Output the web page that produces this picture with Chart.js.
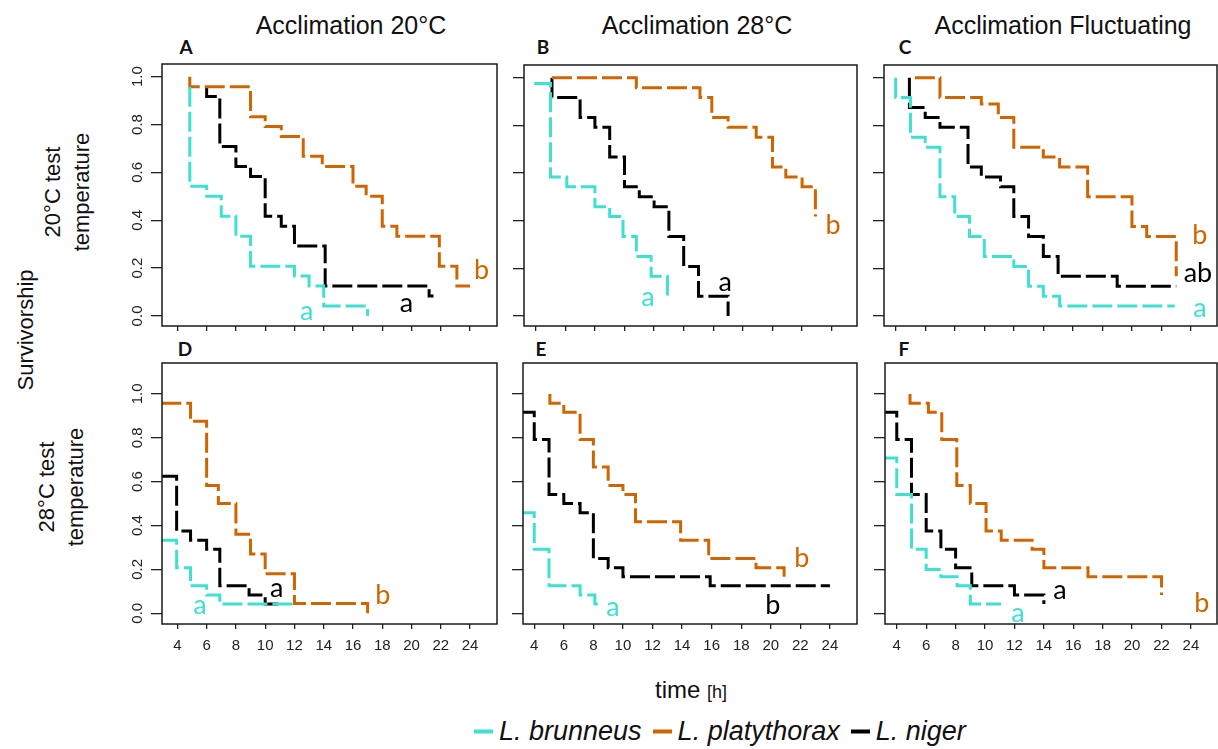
<!DOCTYPE html>
<html>
<head>
<meta charset="utf-8">
<script src="https://cdn.jsdelivr.net/npm/chart.js@4.4.1/dist/chart.umd.min.js"></script>
<style>
  body { margin: 0; background: #fff; width: 1218px; height: 749px; position: relative; overflow: hidden; font-family: 'Liberation Sans', Arial, sans-serif; color: #111; }
  canvas { position: absolute; }
  .txt { position: absolute; white-space: nowrap; transform: translate(-50%, -50%); }
  .title { font-size: 25px; }
  .letter { font-family: Lato, sans-serif; font-weight: bold; font-size: 19px; }
  .side { font-size: 22px; text-align: center; line-height: 29px; transform: translate(-50%, -50%) rotate(-90deg); }
  .legend { position: absolute; left: 474px; top: 731px; transform: translateY(-50%); display: flex; align-items: center; font-style: italic; font-size: 27px; white-space: nowrap; }
  .legend .key { display: inline-block; width: 19px; height: 4px; margin-right: 6px; }
  .legend .item { display: flex; align-items: center; margin-right: 11px; }
</style>
</head>
<body>
<div class="txt title" style="left:351px; top:25px">Acclimation 20°C</div>
<div class="txt title" style="left:697px; top:25px">Acclimation 28°C</div>
<div class="txt title" style="left:1063px; top:25px">Acclimation Fluctuating</div>

<div class="txt letter" style="left:186px; top:46px">A</div>
<div class="txt letter" style="left:543px; top:46px">B</div>
<div class="txt letter" style="left:905px; top:46px">C</div>
<div class="txt letter" style="left:185px; top:348px">D</div>
<div class="txt letter" style="left:541px; top:348px">E</div>
<div class="txt letter" style="left:904px; top:348px">F</div>

<div class="txt side" style="left:25px; top:330px">Survivorship</div>
<div class="txt side" style="left:67px; top:192px">20°C test<br>temperature</div>
<div class="txt side" style="left:61px; top:487px">28°C test<br>temperature</div>

<div class="txt" style="left:691px; top:690px; font-size:24px">time <span style="font-size:18px">[h]</span></div>

<div class="legend">
  <span class="item"><span class="key" style="background:#40E0D0"></span>L. brunneus</span>
  <span class="item"><span class="key" style="background:#CD6600"></span>L. platythorax</span>
  <span class="item"><span class="key" style="background:#000"></span>L. niger</span>
</div>

<script>
const species = ['L. brunneus', 'L. platythorax', 'L. niger']
const colors = ['#40E0D0', '#CD6600', '#000000']
const xTicks = [4, 6, 8, 10, 12, 14, 16, 18, 20, 22, 24]
const yTicks = [0, 0.2, 0.4, 0.6, 0.8, 1.0]

// survival curves: [time (h), proportion surviving]
// A: acclimation 20°C, test 20°C
const brunneusA = [[4.85, 0.958], [4.85, 0.542], [6, 0.5], [7, 0.417], [8, 0.333], [9, 0.208], [12, 0.167], [13, 0.125], [14, 0.042], [17, 0]]
const platythoraxA = [[4.85, 1.0], [4.85, 0.958], [9, 0.833], [10, 0.792], [11.1, 0.75], [12.6, 0.667], [13.9, 0.625], [16, 0.542], [16.9, 0.5], [18, 0.375], [19, 0.333], [21.9, 0.208], [23.1, 0.125], [24, 0.125]]
const nigerA = [[6, 0.958], [6, 0.917], [6.9, 0.708], [8, 0.625], [9, 0.583], [10, 0.417], [11.1, 0.375], [12, 0.292], [14.1, 0.125], [21.2, 0.083], [21.5, 0.083]]

// B: acclimation 28°C, test 20°C
const brunneusB = [[3.9, 0.975], [5, 0.583], [6.1, 0.542], [8, 0.458], [9, 0.417], [9.9, 0.333], [10.8, 0.25], [11.8, 0.167], [12.9, 0.083]]
const platythoraxB = [[5.1, 1.0], [10.8, 0.958], [15.1, 0.917], [15.9, 0.833], [17, 0.792], [18.9, 0.75], [20, 0.625], [20.9, 0.583], [22, 0.542], [22.9, 0.417]]
const nigerB = [[5.1, 1.0], [5.1, 0.917], [7, 0.833], [8, 0.792], [9, 0.667], [10, 0.542], [11, 0.5], [12, 0.458], [13, 0.333], [14, 0.208], [15, 0.083], [17, 0]]

// C: fluctuating acclimation, test 20°C
const brunneusC = [[4, 1.0], [4, 0.917], [5, 0.75], [6, 0.708], [7, 0.5], [8, 0.417], [9, 0.333], [10, 0.25], [12, 0.208], [13, 0.125], [14, 0.083], [15.1, 0.042], [22.9, 0.042]]
const platythoraxC = [[5.3, 1.0], [7, 0.917], [9.8, 0.889], [10.95, 0.833], [12, 0.708], [14, 0.667], [15.1, 0.625], [17, 0.5], [20, 0.375], [21, 0.333], [23, 0.167]]
const nigerC = [[4.93, 1.0], [4.93, 0.875], [6, 0.833], [7, 0.792], [8.9, 0.625], [9.8, 0.583], [11.1, 0.542], [12, 0.417], [13, 0.333], [14, 0.25], [15, 0.167], [19, 0.125], [23, 0.125]]

// D: acclimation 20°C, test 28°C
const brunneusD = [[2.9, 0.333], [3.95, 0.208], [4.9, 0.125], [6, 0.083], [6.9, 0.042], [12, 0.042]]
const platythoraxD = [[2.9, 0.958], [4.9, 0.875], [6, 0.583], [6.8, 0.5], [8, 0.36], [9, 0.27], [10, 0.18], [12, 0.045], [17, 0]]
const nigerD = [[2.9, 0.625], [3.95, 0.375], [4.9, 0.333], [6, 0.292], [6.9, 0.125], [8.9, 0.083], [10, 0.042], [11.1, 0.042]]

// E: acclimation 28°C, test 28°C
const brunneusE = [[3, 0.458], [4, 0.292], [5, 0.125], [7.1, 0.083], [8.1, 0.042], [8.3, 0.042]]
const platythoraxE = [[5.06, 1.0], [5.06, 0.958], [6, 0.917], [7.1, 0.792], [8, 0.667], [9, 0.583], [10, 0.542], [10.85, 0.417], [13.9, 0.333], [15.8, 0.25], [19, 0.208], [20.9, 0.167]]
const nigerE = [[3, 0.917], [4, 0.792], [5, 0.542], [6, 0.5], [7.1, 0.458], [8, 0.25], [9, 0.208], [10, 0.167], [15.9, 0.125], [24, 0.125]]

// F: fluctuating acclimation, test 28°C
const brunneusF = [[3, 0.708], [4, 0.542], [5, 0.292], [6, 0.2], [7, 0.167], [8.1, 0.125], [9, 0.042], [11.1, 0.042]]
const platythoraxF = [[4.9, 1.0], [4.9, 0.958], [6.15, 0.917], [7.06, 0.792], [8.08, 0.583], [9, 0.5], [10.07, 0.375], [11.1, 0.333], [13.2, 0.292], [14, 0.208], [17, 0.167], [22, 0.083]]
const nigerF = [[3, 0.917], [4, 0.792], [5, 0.542], [6, 0.375], [7, 0.292], [8, 0.208], [9.1, 0.125], [12, 0.083], [14, 0.042]]

// significance letters: [text, species index, time, survival]
const lettersA = [['a', 0, 12.83, 0.018], ['a', 2, 19.66, 0.054], ['b', 1, 24.78, 0.19]]
const lettersB = [['a', 0, 11.59, 0.079], ['a', 2, 16.8, 0.142], ['b', 1, 24.1, 0.38]]
const lettersC = [['b', 1, 24.6, 0.338], ['ab', 2, 24.47, 0.18], ['a', 0, 24.6, 0.033]]
const lettersD = [['a', 0, 5.55, 0.038], ['a', 2, 10.78, 0.115], ['b', 1, 18.04, 0.083]]
const lettersE = [['a', 0, 9.32, 0.029], ['b', 2, 20.14, 0.038], ['b', 1, 22.1, 0.252]]
const lettersF = [['a', 2, 15.1, 0.106], ['a', 0, 12.24, 0.0], ['b', 1, 24.74, 0.047]]

const topY = [-0.042, 1.053]
const bottomY = [-0.049, 1.141]

const panels = [
  { box: [162, 64, 497, 326], x: [2.95, 25.84], y: topY, series: [brunneusA, platythoraxA, nigerA], letters: lettersA, yLabels: true, xLabels: false },
  { box: [524, 65, 857, 326], x: [3.21, 25.71], y: topY, series: [brunneusB, platythoraxB, nigerB], letters: lettersB, yLabels: false, xLabels: false },
  { box: [884, 65, 1217, 326], x: [3.21, 25.76], y: topY, series: [brunneusC, platythoraxC, nigerC], letters: lettersC, yLabels: false, xLabels: false },
  { box: [162, 363, 497, 624], x: [2.95, 25.84], y: bottomY, series: [brunneusD, platythoraxD, nigerD], letters: lettersD, yLabels: true, xLabels: true },
  { box: [523, 363, 857, 624], x: [3.24, 25.83], y: bottomY, series: [brunneusE, platythoraxE, nigerE], letters: lettersE, yLabels: false, xLabels: true },
  { box: [885, 363, 1217, 624], x: [3.2, 25.77], y: bottomY, series: [brunneusF, platythoraxF, nigerF], letters: lettersF, yLabels: false, xLabels: true }
]

// frame round the plotting region
const boxPlugin = {
  id: 'box',
  afterDraw (chart) {
    const { ctx, chartArea: a } = chart
    ctx.save()
    ctx.strokeStyle = '#1a1a1a'
    ctx.lineWidth = 1.5
    ctx.strokeRect(a.left, a.top, a.right - a.left, a.bottom - a.top)
    ctx.restore()
  }
}

// the a / b / ab letters next to the curves
const sigPlugin = {
  id: 'sig',
  afterDatasetsDraw (chart, args, opts) {
    const { ctx, scales } = chart
    ctx.save()
    ctx.font = '27px Lato, sans-serif'
    ctx.textAlign = 'center'
    ctx.textBaseline = 'middle'
    opts.letters.forEach(([txt, s, x, y]) => {
      ctx.fillStyle = colors[s]
      ctx.fillText(txt, scales.x.getPixelForValue(x), scales.y.getPixelForValue(y))
    })
    ctx.restore()
  }
}

function makePanel (p) {
  const yW = p.yLabels ? 60 : 16
  const xH = p.xLabels ? 40 : 10
  const pad = 3
  const [l, t, r, b] = p.box
  const canvas = document.createElement('canvas')
  canvas.width = yW + (r - l) + pad
  canvas.height = pad + (b - t) + xH
  canvas.style.left = (l - yW) + 'px'
  canvas.style.top = (t - pad) + 'px'
  document.body.appendChild(canvas)

  const datasets = p.series.map((s, i) => ({
    label: species[i],
    data: s.map(([x, y]) => ({ x, y })),
    borderColor: colors[i],
    borderWidth: 3,
    borderDash: [20, 5],
    stepped: true,
    pointRadius: 0,
    fill: false
  }))

  new Chart(canvas.getContext('2d'), {
    type: 'line',
    data: { datasets },
    options: {
      responsive: false,
      animation: false,
      devicePixelRatio: 1,
      layout: { padding: { top: pad, right: pad, left: 0, bottom: 0 } },
      plugins: {
        legend: { display: false },
        tooltip: { enabled: false },
        sig: { letters: p.letters }
      },
      scales: {
        x: {
          type: 'linear',
          min: p.x[0],
          max: p.x[1],
          afterBuildTicks: s => { s.ticks = xTicks.map(v => ({ value: v })) },
          afterFit: s => { s.height = xH; s.paddingLeft = 0; s.paddingRight = 0 },
          grid: { drawOnChartArea: false, tickLength: 5, color: '#222', lineWidth: 1.3 },
          border: { display: false },
          ticks: { display: p.xLabels, autoSkip: false, maxRotation: 0, padding: 8, color: '#222', font: { family: 'Liberation Sans', size: 15 } }
        },
        y: {
          type: 'linear',
          min: p.y[0],
          max: p.y[1],
          afterBuildTicks: s => { s.ticks = yTicks.map(v => ({ value: v })) },
          afterFit: s => { s.width = yW; s.paddingTop = 0; s.paddingBottom = 0 },
          grid: { drawOnChartArea: false, tickLength: 11, color: '#222', lineWidth: 1.3 },
          border: { display: false },
          ticks: {
            display: p.yLabels,
            minRotation: 90,
            maxRotation: 90,
            crossAlign: 'center',
            padding: 3,
            color: '#222',
            font: { family: 'Liberation Sans', size: 15 },
            callback: v => v.toFixed(1)
          }
        }
      }
    },
    plugins: [boxPlugin, sigPlugin]
  })
}

panels.forEach(makePanel)
</script>
</body>
</html>
